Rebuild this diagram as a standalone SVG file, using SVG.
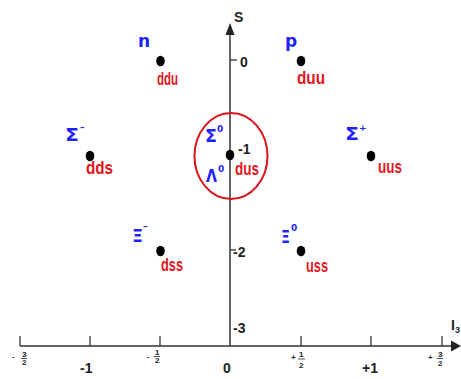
<svg xmlns="http://www.w3.org/2000/svg" width="461" height="379" viewBox="0 0 461 379">
<style>
.ax{stroke:#333;stroke-width:1.5;fill:none}
.tk{stroke:#333;stroke-width:1.3}
.dot{fill:#000}
.bl{fill:#1f1fff;font-family:"DejaVu Sans",sans-serif;font-weight:bold;font-size:17px}
.sup{fill:#1f1fff;font-family:"DejaVu Sans",sans-serif;font-weight:bold;font-size:9px}
.rd{fill:#e3141c;font-family:"Liberation Sans",sans-serif;font-weight:bold;font-size:18px}
.lb{fill:#222;font-family:"Liberation Sans",sans-serif;font-weight:bold;font-size:14px}
.fr{fill:#222;font-family:"Liberation Sans",sans-serif;font-weight:bold;font-size:8px}
</style>
<rect width="461" height="379" fill="#fff"/>
<g id="axes">
<line class="ax" x1="20" y1="346" x2="452" y2="346"/>
<polygon points="461,346 451,340.5 451,351.5" fill="#222"/>
<line class="ax" x1="230" y1="346" x2="230" y2="33"/>
<polygon points="230,23 225.5,35 234.5,35" fill="#222"/>
<g class="tk">
<line x1="20" y1="336" x2="20" y2="346"/>
<line x1="90" y1="336" x2="90" y2="346"/>
<line x1="160" y1="336" x2="160" y2="346"/>
<line x1="301" y1="336" x2="301" y2="346"/>
<line x1="371" y1="336" x2="371" y2="346"/>
<line x1="442" y1="336" x2="442" y2="346"/>
<line x1="230" y1="60" x2="237" y2="60"/>
<line x1="230" y1="250" x2="236" y2="250"/>
</g>
<text class="lb" x="234" y="22" font-size="16">S</text>
<text class="lb" x="451" y="330" font-family="Liberation Serif" font-size="16">I<tspan font-size="9" dy="3">3</tspan></text>
<text class="lb" x="240" y="67" font-size="15">0</text>
<text class="lb" x="238" y="154" font-size="13">-1</text>
<text class="lb" x="233" y="257" font-size="14">-2</text>
<text class="lb" x="233" y="333" font-size="14">-3</text>
<text class="lb" x="80" y="373" font-size="15">-1</text>
<text class="lb" x="223" y="373" font-size="15">0</text>
<text class="lb" x="362" y="373" font-size="15">+1</text>
<text class="fr" x="12" y="359">-</text>
<text class="fr" x="22" y="357" font-size="7">3</text>
<line x1="21" y1="358.5" x2="27" y2="358.5" stroke="#222" stroke-width="0.8"/>
<text class="fr" x="22" y="365" font-size="7">2</text>
<text class="fr" x="147" y="359">-</text>
<text class="fr" x="155" y="355" font-size="7">1</text>
<line x1="154" y1="356.5" x2="160" y2="356.5" stroke="#222" stroke-width="0.8"/>
<text class="fr" x="155" y="363" font-size="7">2</text>
<text class="fr" x="291" y="360" font-size="10">+</text>
<text class="fr" x="299" y="357" font-size="9">1</text>
<line x1="298" y1="359" x2="305" y2="359" stroke="#222" stroke-width="0.8"/>
<text class="fr" x="299" y="368" font-size="9">2</text>
<text class="fr" x="428" y="360">+</text>
<text class="fr" x="438" y="357" font-size="7">3</text>
<line x1="437" y1="358.5" x2="443" y2="358.5" stroke="#222" stroke-width="0.8"/>
<text class="fr" x="438" y="366" font-size="7">2</text>
</g>
<g id="connectors"></g>
<g id="n">
<ellipse class="dot" cx="160.5" cy="61" rx="4.3" ry="5.3"/>
<text class="bl" x="138" y="47" font-size="15">n</text>
<text class="rd" x="157" y="85" textLength="21" lengthAdjust="spacingAndGlyphs">ddu</text>
</g>
<g id="p">
<ellipse class="dot" cx="301" cy="61" rx="4.3" ry="5.3"/>
<text class="bl" x="285" y="47" font-size="15">p</text>
<text class="rd" x="297" y="84" textLength="28" lengthAdjust="spacingAndGlyphs">duu</text>
</g>
<g id="sigma-minus">
<ellipse class="dot" cx="90" cy="156" rx="4.3" ry="5.3"/>
<text class="bl" x="65" y="141" textLength="14" lengthAdjust="spacingAndGlyphs">Σ</text>
<text class="sup" x="80" y="130">–</text>
<text class="rd" x="86" y="174" textLength="27" lengthAdjust="spacingAndGlyphs">dds</text>
</g>
<g id="sigma-plus">
<ellipse class="dot" cx="371" cy="156" rx="4.3" ry="5.3"/>
<text class="bl" x="345" y="140" textLength="14" lengthAdjust="spacingAndGlyphs">Σ</text>
<text class="sup" x="359" y="131">+</text>
<text class="rd" x="378" y="173" font-size="15" textLength="24" lengthAdjust="spacingAndGlyphs">uus</text>
</g>
<g id="center">
<ellipse cx="231" cy="156" rx="36.5" ry="43" fill="none" stroke="#d8141c" stroke-width="2"/>
<ellipse class="dot" cx="230" cy="155" rx="4.3" ry="5.3"/>
<text class="bl" x="205" y="142" textLength="12" lengthAdjust="spacingAndGlyphs">Σ</text>
<text class="sup" x="217" y="132" font-size="8">0</text>
<text class="bl" x="206" y="182" font-size="15" textLength="11" lengthAdjust="spacingAndGlyphs">Λ</text>
<text class="sup" x="218" y="172" font-size="8">0</text>
<text class="rd" x="235" y="175" textLength="24" lengthAdjust="spacingAndGlyphs">dus</text>
</g>
<g id="xi-minus">
<ellipse class="dot" cx="160.5" cy="251" rx="4.3" ry="5.3"/>
<text class="bl" x="132" y="242" textLength="11" lengthAdjust="spacingAndGlyphs">Ξ</text>
<text class="sup" x="143" y="229">–</text>
<text class="rd" x="161" y="271" textLength="22" lengthAdjust="spacingAndGlyphs">dss</text>
</g>
<g id="xi-zero">
<ellipse class="dot" cx="301" cy="251" rx="4.3" ry="5.3"/>
<text class="bl" x="281" y="243" textLength="9" lengthAdjust="spacingAndGlyphs">Ξ</text>
<text class="sup" x="291" y="231">0</text>
<text class="rd" x="306" y="272" textLength="22" lengthAdjust="spacingAndGlyphs">uss</text>
</g>
</svg>
